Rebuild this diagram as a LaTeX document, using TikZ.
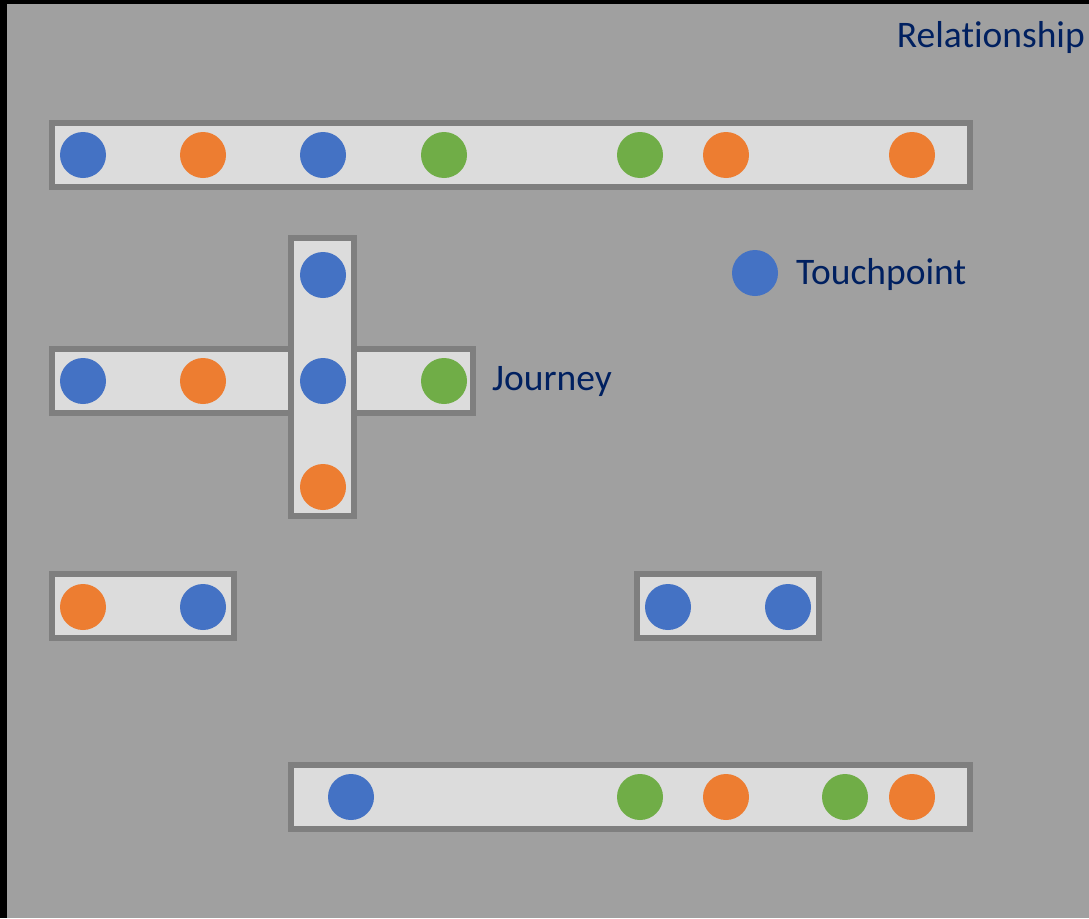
\documentclass[tikz,border=0pt]{standalone}
\usepackage{fontspec}
\setmainfont{Carlito}[RawFeature=-liga]
\definecolor{bg}{HTML}{A0A0A0}
\definecolor{boxline}{HTML}{7F7F7F}
\definecolor{boxfill}{HTML}{DCDCDC}
\definecolor{tpblue}{HTML}{4472C4}
\definecolor{tporange}{HTML}{ED7D31}
\definecolor{tpgreen}{HTML}{70AD47}
\definecolor{navy}{HTML}{002060}
\begin{document}
\begin{tikzpicture}[x=1pt,y=-1pt,
  lane/.style={draw=boxline,fill=boxfill,line width=6pt},
  tp/.style={circle,minimum size=46pt,inner sep=0pt,draw=none},
  blu/.style={tp,fill=tpblue},
  org/.style={tp,fill=tporange},
  grn/.style={tp,fill=tpgreen},
  lbl/.style={text=navy,inner sep=0pt,font=\fontsize{37.5}{45}\selectfont}
]
\fill[black] (0,0) rectangle (1089,918);
\fill[bg] (7,4) rectangle (1089,918);
\useasboundingbox (0,0) rectangle (1089,918);

% Row 1
\draw[lane] (52,123) rectangle (970,187);
\node[blu] (a1) at (83,155) {};
\node[org] (a2) at (203,155) {};
\node[blu] (a3) at (323,155) {};
\node[grn] (a4) at (444,155) {};
\node[grn] (a5) at (640,155) {};
\node[org] (a6) at (726,155) {};
\node[org] (a7) at (912,155) {};

% Row 2 horizontal journey
\draw[lane] (52,349) rectangle (473,413);
% vertical
\draw[lane] (291,238) rectangle (354,516);
\node[blu] (b1) at (83,381) {};
\node[org] (b2) at (203,381) {};
\node[blu] (b3) at (323,381) {};
\node[grn] (b4) at (444,381) {};
\node[blu] (v1) at (323,275) {};
\node[org] (v3) at (323,487) {};

% Row 3
\draw[lane] (52,574) rectangle (234,638);
\node[org] (c1) at (83,607) {};
\node[blu] (c2) at (203,607) {};
\draw[lane] (637,574) rectangle (819,638);
\node[blu] (d1) at (668,607) {};
\node[blu] (d2) at (788,607) {};

% Row 4
\draw[lane] (291,765) rectangle (970,829);
\node[blu] (e1) at (351,797) {};
\node[grn] (e2) at (640,797) {};
\node[org] (e3) at (726,797) {};
\node[grn] (e4) at (845,797) {};
\node[org] (e5) at (912,797) {};

% Legend and labels
\node[blu] (leg) at (755,273) {};
\node[lbl,anchor=base west] (tptext) at (796,284) {Touchpoint};
\node[lbl,anchor=base west] (jtext) at (492,390) {Journey};
\node[lbl,anchor=base east] (rtext) at (1085,47) {Relationship};
\end{tikzpicture}
\end{document}
